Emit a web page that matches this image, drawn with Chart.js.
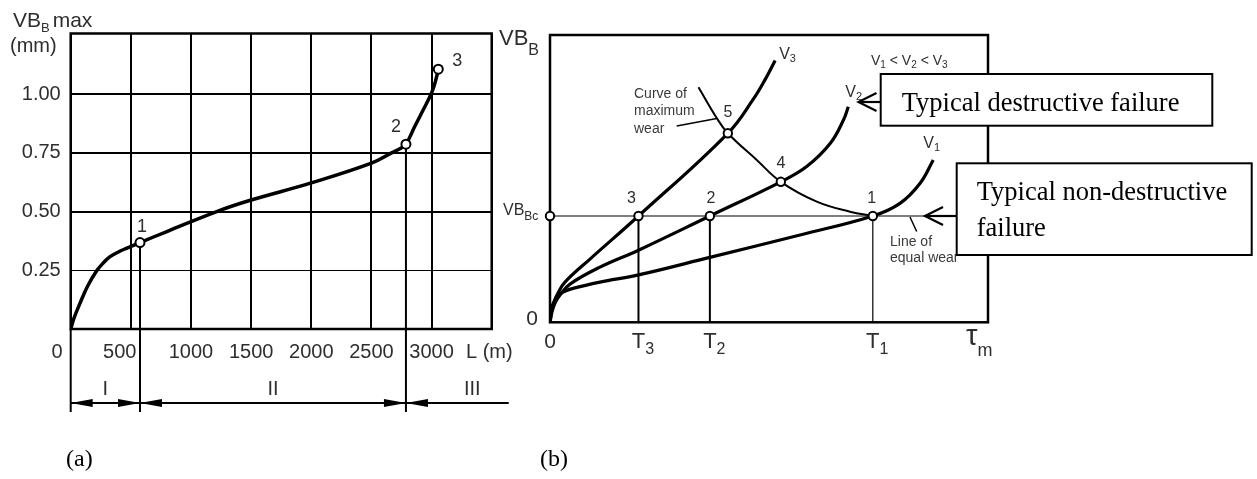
<!DOCTYPE html>
<html>
<head>
<meta charset="utf-8">
<script src="https://cdn.jsdelivr.net/npm/chart.js@4.4.1/dist/chart.umd.min.js"></script>
<style>
  html, body { margin: 0; padding: 0; background: #fff; }
  body { width: 1257px; height: 479px; position: relative; overflow: hidden; }
  .panel { position: absolute; top: 0; }
  #wear-length { left: 0; }
  #wear-time { left: 490px; }
</style>
</head>
<body>
<div class="panel" id="wear-length"><canvas id="wear-length-chart" width="520" height="479"></canvas></div>
<div class="panel" id="wear-time"><canvas id="wear-time-chart" width="767" height="479"></canvas></div>
<script>
// (a) max flank wear against cutting length
const cutLength = [0, 30, 77, 140, 216, 270, 327, 400, 466, 576, 800, 1214, 1500, 2000, 2500, 2668, 2740, 2787, 2860, 2930, 3000, 3030, 3056];
const flankWear = [0, 0.05, 0.109, 0.182, 0.248, 0.281, 0.308, 0.329, 0.344, 0.368, 0.415, 0.5, 0.549, 0.622, 0.706, 0.75, 0.768, 0.787, 0.862, 0.932, 1.005, 1.05, 1.106];
const stageL = [576, 2787, 3056];
const stageVB = [0.368, 0.787, 1.106];
const stageNames = ["1", "2", "3"];
const regionNames = ["I", "II", "III"];
const regionStart = [0, 576, 2787];
const regionEnd = [576, 2787, null];
const lengthTicks = [0, 500, 1000, 1500, 2000, 2500, 3000, 3500];
const wearTicks = [0, 0.25, 0.5, 0.75, 1.0];

// (b) flank wear against cutting time for three speeds
const v1Time = [0, 0.23, 0.68, 1.6, 2.97, 5.25, 11.4, 20.2, 36.5, 57.1, 73.7, 79.9, 84.5, 87.5];
const v1Wear = [0, 3.6, 6.4, 8.8, 10.5, 11.8, 14.0, 16.5, 22.6, 30.4, 37.0, 41.4, 48.4, 56.5];
const v2Time = [0, 0.46, 1.14, 2.28, 4.57, 11.4, 20.2, 36.5, 52.7, 58.6, 64.0, 67.0, 68.1];
const v2Wear = [0, 3.6, 6.7, 9.5, 13.3, 19.2, 25.1, 37.0, 48.9, 54.2, 62.3, 70.4, 75.0];
const v3Time = [0, 0.34, 0.91, 1.83, 3.42, 9.13, 20.2, 40.6, 46.3, 49.3, 51.4];
const v3Wear = [0, 3.6, 7.1, 10.2, 14.0, 22.0, 37.0, 65.8, 77.4, 85.0, 91.1];
const maxWearTime = [33.9, 38.1, 40.6, 47.2, 52.7, 60.9, 68.5, 73.7];
const maxWearWear = [81.8, 71.0, 65.8, 56.5, 48.9, 42.0, 38.5, 37.0];
const criterionWear = 37.0;
const lifeTimes = [73.7, 36.5, 20.2];
const lifeNames = ["1", "2", "3"];
const pointTime = [73.7, 36.5, 20.2, 52.7, 40.6];
const pointWear = [37.0, 37.0, 37.0, 48.9, 65.8];
const pointNames = ["1", "2", "3", "4", "5"];

const SANS = "'Liberation Sans', Arial, sans-serif";
const SERIF = "'Liberation Serif', 'Times New Roman', serif";
const INK = "#2e2e2e";

const toXY = (xs, ys) => xs.map((x, i) => ({ x, y: ys[i] }));

function label(ctx, str, x, y, size, align, base, family, color) {
    ctx.font = `${size}px ${family || SANS}`;
    ctx.fillStyle = color || INK;
    ctx.textAlign = align || "left";
    ctx.textBaseline = base || "alphabetic";
    ctx.fillText(str, x, y);
}

// main text + subscript, returns the end x
function subLabel(ctx, main, sub, x, y, size, subSize, align, drop, color) {
    ctx.font = `${size}px ${SANS}`;
    const w1 = ctx.measureText(main).width;
    ctx.font = `${subSize}px ${SANS}`;
    const w2 = ctx.measureText(sub).width;
    let left = x;
    if (align === "center") left = x - w1 / 2;
    if (align === "right") left = x - w1 - w2;
    label(ctx, main, left, y, size, "left", "alphabetic", SANS, color);
    label(ctx, sub, left + w1, y + (drop == null ? size * 0.3 : drop), subSize, "left", "alphabetic", SANS, color);
    return left + w1 + w2;
}

function seg(ctx, x1, y1, x2, y2) {
    ctx.beginPath();
    ctx.moveTo(x1, y1);
    ctx.lineTo(x2, y2);
    ctx.stroke();
}

function solidHead(ctx, tip, y, dir) {
    ctx.beginPath();
    ctx.moveTo(tip, y);
    ctx.lineTo(tip - dir * 22, y - 4);
    ctx.lineTo(tip - dir * 22, y + 4);
    ctx.closePath();
    ctx.fill();
}

const panelA = {
    id: "panelA",
    beforeDatasetsDraw(chart) {
        const { ctx, chartArea: a } = chart;
        ctx.save();
        ctx.strokeStyle = "#000";
        ctx.lineWidth = 2.5;
        ctx.strokeRect(a.left, a.top, a.right - a.left, a.bottom - a.top);
        ctx.restore();
    },
    afterDraw(chart) {
        const { ctx, chartArea: a } = chart;
        const xs = chart.scales.x;
        const ys = chart.scales.y;
        ctx.save();

        // axis titles
        const vbEnd = subLabel(ctx, "VB", "B", 13, 27, 21, 13, "left", 5);
        label(ctx, "max", vbEnd + 3, 27, 21);
        label(ctx, "(mm)", 10, 52, 20);
        label(ctx, "0", 57, a.bottom + 23, 20, "center", "middle");
        label(ctx, "L (m)", 466, a.bottom + 23, 20, "left", "middle");

        // stage numbers
        const offs = [[2, -16], [-10, -17], [19, -8]];
        stageL.forEach((v, i) => {
            const px = xs.getPixelForValue(v);
            const py = ys.getPixelForValue(stageVB[i]);
            label(ctx, stageNames[i], px + offs[i][0], py + offs[i][1], 18, "center", "middle");
        });

        // wear stage bands below the axis
        const rowY = a.bottom + 74;
        ctx.strokeStyle = "#000";
        ctx.fillStyle = "#000";
        ctx.lineWidth = 2;
        regionStart.forEach((v) => {
            const px = xs.getPixelForValue(v);
            seg(ctx, px, a.bottom, px, rowY + 9);
        });
        regionNames.forEach((name, i) => {
            const s = xs.getPixelForValue(regionStart[i]);
            const e = regionEnd[i] == null ? a.right + 17 : xs.getPixelForValue(regionEnd[i]);
            ctx.strokeStyle = "#000";
            ctx.fillStyle = "#000";
            seg(ctx, s, rowY, e, rowY);
            solidHead(ctx, s, rowY, -1);
            if (regionEnd[i] != null) solidHead(ctx, e, rowY, 1);
            const mid = regionEnd[i] == null ? (s + e) / 2 + 15 : (s + e) / 2;
            label(ctx, name, mid, rowY - 8, 20, "center", "alphabetic");
        });

        label(ctx, "(a)", 66, 466, 24, "left", "alphabetic", SERIF, "#000");
        ctx.restore();
    },
};

new Chart(document.getElementById("wear-length-chart"), {
    type: "scatter",
    data: {
        datasets: [
            {
                data: toXY(stageL, stageVB),
                pointRadius: 4.5,
                pointBorderWidth: 2,
                pointBackgroundColor: "#fff",
                pointBorderColor: "#000",
                clip: false,
                order: 0,
            },
            {
                data: toXY(cutLength, flankWear),
                showLine: true,
                borderColor: "#000",
                borderWidth: 3.5,
                pointRadius: 0,
                tension: 0.4,
                order: 1,
            },
            ...stageL.slice(0, 2).map((v, i) => ({
                data: [{ x: v, y: stageVB[i] }, { x: v, y: 0 }],
                showLine: true,
                borderColor: "#000",
                borderWidth: 2,
                pointRadius: 0,
                order: 2,
            })),
        ],
    },
    options: {
        responsive: false,
        animation: false,
        layout: { padding: { top: 33.5, right: 28.3, left: 0, bottom: 0 } },
        plugins: { legend: { display: false }, tooltip: { enabled: false } },
        scales: {
            x: {
                type: "linear",
                min: 0,
                max: 3500,
                afterBuildTicks: (s) => { s.ticks = lengthTicks.map((value) => ({ value })); },
                afterFit: (s) => { s.height = 150; },
                border: { display: false },
                grid: { color: "#000", lineWidth: 2, drawTicks: false },
                ticks: {
                    padding: 11,
                    maxRotation: 0,
                    autoSkip: false,
                    color: INK,
                    font: { family: SANS, size: 20 },
                    // the 500 label sits left of the stage line in the original
                    callback: (v) => (v === 0 || v === 3500 ? "" : v === 500 ? "500    " : String(v)),
                },
            },
            y: {
                type: "linear",
                min: 0,
                max: 1.258,
                afterBuildTicks: (s) => { s.ticks = wearTicks.map((value) => ({ value })); },
                afterFit: (s) => { s.width = 70.7; },
                border: { display: false },
                grid: {
                    color: "#000",
                    lineWidth: (c) => (c.tick && c.tick.value === 0.25 ? 1 : 2),
                    drawTicks: false,
                },
                ticks: {
                    padding: 10,
                    color: INK,
                    font: { family: SANS, size: 20 },
                    callback: (v) => (v === 0 ? "" : v.toFixed(2)),
                },
            },
        },
    },
    plugins: [panelA],
});

const panelB = {
    id: "panelB",
    beforeDatasetsDraw(chart) {
        const { ctx, chartArea: a } = chart;
        ctx.save();
        ctx.strokeStyle = "#000";
        ctx.lineWidth = 2.5;
        ctx.strokeRect(a.left, a.top, a.right - a.left, a.bottom - a.top);
        ctx.restore();
    },
    afterDraw(chart) {
        const { ctx, chartArea: a } = chart;
        const xs = chart.scales.x;
        const ys = chart.scales.y;
        ctx.save();

        // axis labels
        subLabel(ctx, "VB", "B", 9, 45, 22, 16, "left", 10);
        label(ctx, "0", 48, a.bottom + 3, 21, "right", "alphabetic");
        label(ctx, "0", xs.getPixelForValue(0), a.bottom + 26, 21, "center", "alphabetic");
        const lvl = ys.getPixelForValue(criterionWear);
        subLabel(ctx, "VB", "Bc", 13, lvl - 1, 16, 12, "left", 5);
        lifeTimes.forEach((t, i) => {
            subLabel(ctx, "T", lifeNames[i], xs.getPixelForValue(t), a.bottom + 26, 22, 16, "center", 6);
        });
        subLabel(ctx, "τ", "m", a.right - 22, a.bottom + 23, 29, 18, "left", 11);

        // point numbers
        const offs = [[-1, -17], [1, -17], [-7, -17], [0, -18], [0, -21]];
        pointTime.forEach((t, i) => {
            label(ctx, pointNames[i], xs.getPixelForValue(t) + offs[i][0], ys.getPixelForValue(pointWear[i]) + offs[i][1], 16, "center", "middle");
        });

        // speed labels at curve ends
        const ends = [
            [v1Time, v1Wear, "1", -10, -12],
            [v2Time, v2Wear, "2", -3, -10],
            [v3Time, v3Wear, "3", 4, -2],
        ];
        ends.forEach(([tx, wy, n, dx, dy]) => {
            const px = xs.getPixelForValue(tx[tx.length - 1]);
            const py = ys.getPixelForValue(wy[wy.length - 1]);
            subLabel(ctx, "V", n, px + dx, py + dy, 16, 11, "left", 3);
        });

        // speed ordering note
        let cx = 381;
        ["1", "2", "3"].forEach((n, i) => {
            cx = subLabel(ctx, "V", n, cx, 65, 14, 10, "left", 3);
            if (i < 2) {
                label(ctx, " < ", cx, 65, 14);
                ctx.font = `14px ${SANS}`;
                cx += ctx.measureText(" < ").width;
            }
        });

        // curve annotations
        const note = "#3d3a36";
        label(ctx, "Curve of", 144, 98, 14, "left", "alphabetic", SANS, note);
        label(ctx, "maximum", 144, 115, 14, "left", "alphabetic", SANS, note);
        label(ctx, "wear", 144, 132.5, 14, "left", "alphabetic", SANS, note);
        label(ctx, "Line of", 400, 245.5, 14, "left", "alphabetic", SANS, note);
        label(ctx, "equal wear", 400, 262, 14, "left", "alphabetic", SANS, note);
        ctx.strokeStyle = "#000";
        ctx.lineWidth = 1.5;
        seg(ctx, 186.7, 126, 226.7, 118.5);
        seg(ctx, 420, lvl + 1, 426.7, 231.5);

        // callout boxes
        ctx.lineWidth = 2;
        ctx.fillStyle = "#fff";
        ctx.fillRect(390.7, 74, 331.6, 51.7);
        ctx.strokeRect(390.7, 74, 331.6, 51.7);
        ctx.fillRect(466.7, 163.3, 295, 91.7);
        ctx.strokeRect(466.7, 163.3, 295, 91.7);
        label(ctx, "Typical destructive failure", 411.7, 110.5, 26.5, "left", "alphabetic", SERIF, "#000");
        label(ctx, "Typical non-destructive", 486.7, 200, 26.5, "left", "alphabetic", SERIF, "#000");
        label(ctx, "failure", 486.7, 236, 26.5, "left", "alphabetic", SERIF, "#000");

        // callout arrows
        const arrow = (x1, x2, y) => {
            seg(ctx, x1, y, x2, y);
            ctx.beginPath();
            ctx.moveTo(x2 + 18, y - 9);
            ctx.lineTo(x2, y);
            ctx.lineTo(x2 + 18, y + 9);
            ctx.stroke();
        };
        ctx.lineWidth = 2.2;
        arrow(390.7, 368.5, 102);
        arrow(466.7, 435, lvl);

        label(ctx, "(b)", 50, 466, 24, "left", "alphabetic", SERIF, "#000");
        ctx.restore();
    },
};

const curve = (xs, ys, width) => ({
    data: toXY(xs, ys),
    showLine: true,
    borderColor: "#000",
    borderWidth: width,
    pointRadius: 0,
    tension: 0.4,
    order: 2,
});

new Chart(document.getElementById("wear-time-chart"), {
    type: "scatter",
    data: {
        datasets: [
            {
                data: [...toXY(pointTime, pointWear), { x: 0, y: criterionWear }],
                pointRadius: 4.2,
                pointBorderWidth: 2,
                pointBackgroundColor: "#fff",
                pointBorderColor: "#000",
                clip: false,
                order: 0,
            },
            curve(v1Time, v1Wear, 3.2),
            curve(v2Time, v2Wear, 3.2),
            curve(v3Time, v3Wear, 3.2),
            curve(maxWearTime, maxWearWear, 2),
            {
                data: [{ x: 0, y: criterionWear }, { x: 100, y: criterionWear }],
                showLine: true,
                borderColor: "#000",
                borderWidth: 1.2,
                pointRadius: 0,
                order: 3,
            },
            ...lifeTimes.map((t, i) => ({
                data: [{ x: t, y: criterionWear }, { x: t, y: 0 }],
                showLine: true,
                borderColor: "#000",
                borderWidth: i === 0 ? 1.2 : 2,
                pointRadius: 0,
                order: 3,
            })),
        ],
    },
    options: {
        responsive: false,
        animation: false,
        layout: { padding: { top: 35, right: 269, left: 0, bottom: 0 } },
        plugins: { legend: { display: false }, tooltip: { enabled: false } },
        scales: {
            x: {
                type: "linear",
                min: 0,
                max: 100,
                afterFit: (s) => { s.height = 156.7; },
                border: { display: false },
                grid: { display: false },
                ticks: { display: false },
            },
            y: {
                type: "linear",
                min: 0,
                max: 100,
                afterFit: (s) => { s.width = 60; },
                border: { display: false },
                grid: { display: false },
                ticks: { display: false },
            },
        },
    },
    plugins: [panelB],
});
</script>
</body>
</html>
